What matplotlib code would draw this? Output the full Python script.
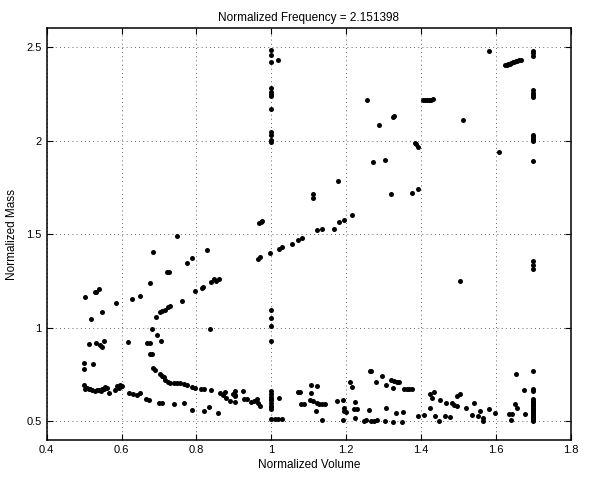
import matplotlib
matplotlib.use("Agg")
import matplotlib.pyplot as plt
from matplotlib.ticker import FuncFormatter

# Grouped by region of the plot.

# lower-left band and low-volume points
vol_left = [0.499, 0.499, 0.525, 0.499, 0.503, 0.512, 0.521, 0.530, 0.539, 0.548, 0.557,
            0.566, 0.583, 0.588, 0.597, 0.619, 0.631, 0.641, 0.650, 0.664, 0.673, 0.700,
            0.708, 0.739, 0.768, 0.788, 0.819, 0.857, 0.833, 0.864, 0.877, 0.898, 0.904,
            0.508, 0.515, 0.535, 0.545, 0.553, 0.562, 0.592, 0.600]
mass_left = [0.809, 0.777, 0.805, 0.693, 0.675, 0.670, 0.666, 0.663, 0.666, 0.670, 0.684,
             0.652, 0.666, 0.688, 0.696, 0.652, 0.645, 0.639, 0.652, 0.621, 0.612, 0.598,
             0.595, 0.591, 0.595, 0.562, 0.555, 0.545, 0.577, 0.652, 0.655, 0.648, 0.634,
             0.680, 0.672, 0.668, 0.660, 0.672, 0.680, 0.678, 0.690]

# curved branch sweeping down from ~(0.7, 1.4) to (0.84, 0.67)
vol_curve = [0.683, 0.677, 0.668, 0.677, 0.681, 0.692, 0.695, 0.704, 0.677, 0.684, 0.690,
             0.702, 0.708, 0.713, 0.717, 0.724, 0.730, 0.739, 0.748, 0.757, 0.766, 0.775,
             0.788, 0.797, 0.811, 0.820, 0.838, 0.702, 0.708, 0.717, 0.724, 0.729, 0.722,
             0.726, 0.681]
mass_curve = [1.407, 1.241, 0.916, 0.920, 0.993, 1.059, 0.961, 0.930, 0.862, 0.782, 0.773,
              0.755, 0.743, 0.734, 0.723, 0.711, 0.702, 0.705, 0.702, 0.705, 0.698, 0.693,
              0.684, 0.679, 0.673, 0.670, 0.666, 1.084, 1.091, 1.095, 1.109, 1.116, 1.296,
              1.296, 0.859]

# scattered points in the upper-left area
vol_upper_left = [0.748, 0.829, 0.789, 0.775, 0.539, 0.532, 0.530, 0.503, 0.846, 0.853,
                  0.838, 0.860, 0.818, 0.816, 0.795, 0.762, 0.648, 0.628, 0.586, 0.548,
                  0.518, 0.836, 0.512, 0.532, 0.552, 0.543, 0.548, 0.617]
mass_upper_left = [1.488, 1.416, 1.371, 1.345, 1.207, 1.193, 1.189, 1.166, 1.259, 1.252,
                   1.246, 1.262, 1.220, 1.211, 1.196, 1.145, 1.170, 1.154, 1.134, 1.086,
                   1.048, 0.991, 0.913, 0.920, 0.930, 0.907, 0.898, 0.925]

# column of points at volume = 1
vol_one = [1.0, 1.0, 1.0, 1.018, 1.0, 1.0, 1.0, 1.0, 1.0, 1.0, 1.0, 1.0, 1.0, 1.0,
           1.0, 1.0, 1.0, 1.0, 1.0, 1.0, 1.0, 1.0, 1.0, 1.0, 1.0, 1.0, 1.0, 1.02,
           1.009, 1.018, 1.027]
mass_one = [2.482, 2.455, 2.420, 2.430, 2.280, 2.260, 2.250, 2.240, 2.170, 2.048, 2.030,
            2.004, 1.990, 1.095, 1.050, 1.009, 0.930, 0.662, 0.645, 0.621, 0.612, 0.577,
            0.563, 0.580, 0.514, 0.600, 0.630, 0.627, 0.514, 0.514, 0.514]

# rising branch from ~(0.97, 1.37) to (1.22, 1.6) plus scattered upper points
vol_mid = [0.967, 0.971, 0.976, 0.965, 0.969, 0.996, 1.021, 1.029, 1.054, 1.072, 1.083,
           1.123, 1.136, 1.166, 1.181, 1.193, 1.215, 1.110, 1.111, 1.178, 1.255, 1.287,
           1.324, 1.326, 1.272, 1.302, 1.319]
mass_mid = [1.561, 1.566, 1.568, 1.368, 1.375, 1.400, 1.423, 1.429, 1.445, 1.468, 1.480,
            1.521, 1.529, 1.529, 1.566, 1.577, 1.600, 1.712, 1.695, 1.786, 2.218, 2.082,
            2.123, 2.129, 1.884, 1.895, 1.714]

# upper-right points
vol_upper_right = [1.580, 1.624, 1.628, 1.632, 1.636, 1.640, 1.644, 1.648, 1.652, 1.656,
                   1.660, 1.665, 1.404, 1.410, 1.415, 1.420, 1.426, 1.431, 1.512, 1.382,
                   1.387, 1.391, 1.608, 1.376, 1.391, 1.503]
mass_upper_right = [2.477, 2.402, 2.405, 2.408, 2.411, 2.414, 2.417, 2.420, 2.423, 2.426,
                    2.429, 2.432, 2.214, 2.215, 2.217, 2.218, 2.219, 2.221, 2.112, 1.989,
                    1.980, 1.964, 1.938, 1.718, 1.739, 1.250]

# column of points at volume = 1.7
vol_col = [1.697] * 24
mass_col = [2.480, 2.465, 2.454, 2.270, 2.255, 2.245, 2.230, 2.030, 2.020, 2.010, 2.000,
            1.891, 1.357, 1.334, 1.316, 0.768, 0.675, 0.663, 0.610, 0.590, 0.570, 0.550,
            0.530, 0.510]
vol_col_fill = [1.697] * 12
mass_col_fill = [0.620, 0.605, 0.600, 0.585, 0.580, 0.565, 0.560, 0.545, 0.540, 0.525,
                 0.520, 0.500]

# lower-right scattered band
vol_low_right = [0.902, 0.902, 0.902, 0.925, 0.927, 0.934, 0.946, 0.954, 0.961, 0.964,
                 0.970, 1.070, 1.077, 1.107, 1.123, 1.106, 1.080, 1.088, 1.103, 1.112,
                 1.121, 1.128, 1.136, 1.144, 1.120, 1.136, 1.175, 1.191, 1.193, 1.194,
                 1.199, 1.190, 1.210, 1.216, 1.224, 1.221, 1.228, 1.223, 1.246, 1.252,
                 1.262, 1.266, 1.279, 1.295, 1.261, 1.266, 1.275, 1.281, 1.306, 1.307,
                 1.318, 1.326, 1.334, 1.340, 1.325, 1.302, 1.324, 1.332, 1.351, 1.348,
                 1.353, 1.362, 1.368, 1.375, 1.390, 1.406, 1.422, 1.424, 1.433, 1.429,
                 1.436, 1.448, 1.451, 1.464, 1.478, 1.467, 1.482, 1.487, 1.495, 1.495,
                 1.504, 1.519, 1.536, 1.551, 1.565, 1.565, 1.540, 1.556, 1.581, 1.596,
                 1.634, 1.643, 1.640, 1.650, 1.656, 1.678, 1.653, 1.674, 0.870, 0.880,
                 0.890]
mass_low_right = [0.662, 0.643, 0.602, 0.662, 0.620, 0.620, 0.602, 0.607, 0.620, 0.598,
                  0.584, 0.654, 0.654, 0.693, 0.688, 0.652, 0.591, 0.591, 0.616, 0.609,
                  0.598, 0.591, 0.591, 0.591, 0.555, 0.505, 0.609, 0.616, 0.573, 0.554,
                  0.550, 0.505, 0.711, 0.684, 0.604, 0.563, 0.563, 0.520, 0.500, 0.505,
                  0.770, 0.770, 0.711, 0.741, 0.559, 0.502, 0.502, 0.505, 0.573, 0.696,
                  0.720, 0.714, 0.711, 0.711, 0.680, 0.500, 0.496, 0.545, 0.548, 0.496,
                  0.671, 0.675, 0.675, 0.675, 0.527, 0.532, 0.573, 0.648, 0.657, 0.627,
                  0.527, 0.500, 0.616, 0.527, 0.523, 0.598, 0.598, 0.586, 0.584, 0.636,
                  0.645, 0.573, 0.532, 0.527, 0.520, 0.502, 0.595, 0.554, 0.566, 0.545,
                  0.541, 0.541, 0.509, 0.591, 0.573, 0.541, 0.752, 0.666, 0.640, 0.625,
                  0.610]

x_ticks = [0.4, 0.6, 0.8, 1.0, 1.2, 1.4, 1.6, 1.8]
y_ticks = [0.5, 1.0, 1.5, 2.0, 2.5]

groups = [
    (vol_left, mass_left),
    (vol_curve, mass_curve),
    (vol_upper_left, mass_upper_left),
    (vol_one, mass_one),
    (vol_mid, mass_mid),
    (vol_upper_right, mass_upper_right),
    (vol_col, mass_col),
    (vol_col_fill, mass_col_fill),
    (vol_low_right, mass_low_right),
]

plt.rcParams['font.family'] = ['Liberation Sans', 'DejaVu Sans']

fig = plt.figure(figsize=(5.9, 4.78), dpi=100)
ax = fig.add_axes([0.079, 0.0795, 0.889, 0.8615])

for vols, masses in groups:
    ax.plot(vols, masses, linestyle='none', marker='o', markersize=3.6,
            color='black', markeredgewidth=0)

ax.set_xlim(0.4, 1.8)
ax.set_ylim(0.4, 2.6)
ax.set_xticks(x_ticks)
ax.set_yticks(y_ticks)
ax.xaxis.set_major_formatter(FuncFormatter(lambda v, _: f"{v:g}"))
ax.yaxis.set_major_formatter(FuncFormatter(lambda v, _: f"{v:g}"))
ax.tick_params(direction='in', length=4, width=0.8, labelsize=8,
               top=True, right=True, colors='black')
ax.grid(True, linestyle=(0, (1, 4)), linewidth=0.6, color='#333333')
for side in ax.spines.values():
    side.set_linewidth(1.1)

ax.set_title('Normalized Frequency = 2.151398', fontsize=8.5, pad=5)
ax.set_xlabel('Normalized Volume', fontsize=8.5, labelpad=3)
ax.set_ylabel('Normalized Mass', fontsize=8.5, labelpad=6)

fig.savefig('out.png', dpi=100)
